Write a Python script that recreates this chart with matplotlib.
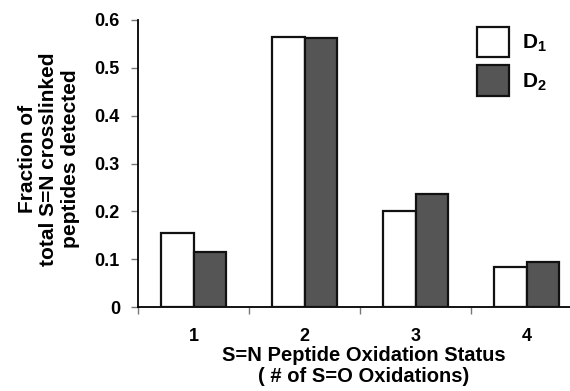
import matplotlib
matplotlib.use("Agg")
import matplotlib.pyplot as plt
import numpy as np

plt.rcParams['font.family'] = ['Liberation Sans', 'DejaVu Sans']
plt.rcParams['mathtext.fontset'] = 'custom'
plt.rcParams['mathtext.rm'] = 'Liberation Sans'
plt.rcParams['mathtext.bf'] = 'Liberation Sans:bold'

categories = ["1", "2", "3", "4"]
d1 = [0.155, 0.565, 0.200, 0.084]
d2 = [0.115, 0.563, 0.237, 0.094]
yticks = [0, 0.1, 0.2, 0.3, 0.4, 0.5, 0.6]
ytick_labels = ["0", "0.1", "0.2", "0.3", "0.4", "0.5", "0.6"]

fig = plt.figure(figsize=(5.7, 3.91), dpi=100)
ax = fig.add_axes([138/570, 1-307/391, (590-138)/570, (307-20)/391])

x = np.arange(1, len(categories)+1)
w = 0.29
ax.bar(x - w/2, d1, width=w, color='white', edgecolor='#111111', linewidth=1.6,
       label=r'$\mathbf{D_1}$', zorder=3)
ax.bar(x + w/2, d2, width=w, color='#555555', edgecolor='#111111', linewidth=1.6,
       label=r'$\mathbf{D_2}$', zorder=3)

ax.set_xlim(0.5, 4.57)
ax.set_ylim(0, 0.6)
ax.spines['top'].set_visible(False)
ax.spines['right'].set_visible(False)
ax.spines['left'].set_linewidth(1.3)
ax.spines['bottom'].set_linewidth(1.3)

ax.set_yticks(yticks)
ax.set_yticklabels(ytick_labels, fontsize=13, fontweight='bold')
ax.tick_params(axis='y', length=5, width=1, color='#777777', pad=8)

ax.set_xticks(x)
ax.set_xticklabels(categories, fontsize=13, fontweight='bold')
ax.tick_params(axis='x', which='major', length=0, pad=15)
ax.set_xticks([0.5, 1.5, 2.5, 3.5], minor=True)
ax.tick_params(axis='x', which='minor', length=5, width=1, color='#777777')

ax.set_xlabel("S=N Peptide Oxidation Status\n( # of S=O Oxidations)", fontsize=14.5, fontweight='bold', labelpad=1, linespacing=1.15)
fig.text(49/570, 1-159/391, "Fraction of\ntotal S=N crosslinked\npeptides detected",
         rotation=90, ha='center', va='center', fontsize=15, fontweight='bold', linespacing=1.15)

ax.legend(loc='upper left', bbox_to_anchor=(477/570, 1-27/391), bbox_transform=fig.transFigure,
          frameon=False, prop={'weight': 'bold', 'size': 15}, handlelength=1.55, handleheight=1.85,
          handletextpad=0.6, labelspacing=0.4, borderaxespad=0.0, borderpad=0.0)

fig.savefig("out.png", dpi=100)
